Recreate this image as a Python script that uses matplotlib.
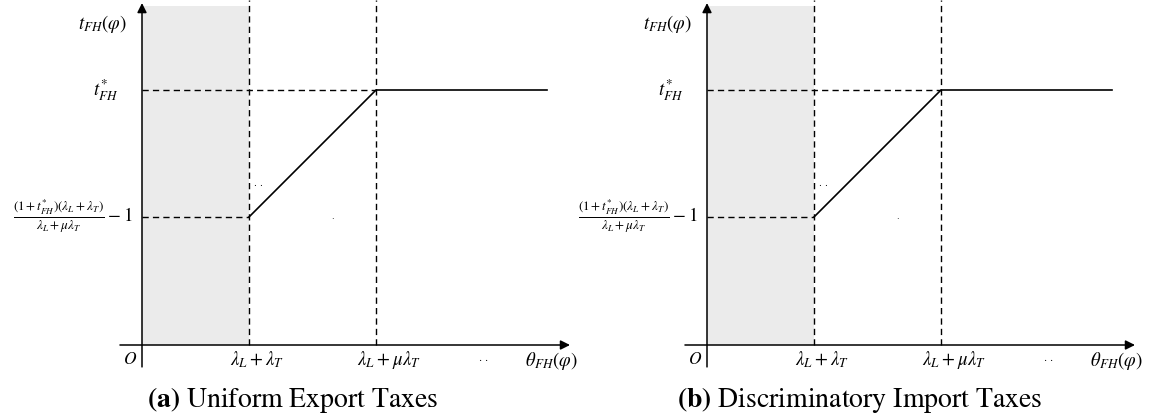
import matplotlib
matplotlib.use("Agg")
import matplotlib.pyplot as plt
from matplotlib.patches import Rectangle

plt.rcParams.update({
    "mathtext.fontset": "stix",
    "font.family": "STIXGeneral",
    "font.size": 11,
})

# ---------------------------------------------------------------------------
# Schematic values (data units: x1 = lambda_L + lambda_T = 1, t* = 1)
# ---------------------------------------------------------------------------
X_KINKS = [1.0, 2.187]         # lambda_L+lambda_T, lambda_L+mu*lambda_T
X_END = 3.785                  # end of the flat segment
T_LEVELS = [0.502, 1.0]        # lower bound, t*_FH
X_TICK_LABELS = [r"$\lambda_L+\lambda_T$", r"$\lambda_L+\mu\lambda_T$"]
Y_TICK_LABELS = [r"$\frac{(1+t^{*}_{FH})(\lambda_L+\lambda_T)}{\lambda_L+\mu\lambda_T}-1$",
                 r"$t^{*}_{FH}$"]
CAPTIONS = [r"$\mathbf{(a)}$ Uniform Export Taxes",
            r"$\mathbf{(b)}$ Discriminatory Import Taxes"]
CAPTION_X = [1.41, 1.43]

PX_X, PX_Y = 107.0, 255.0      # pixels per data unit
ORIGIN = (142, 345)            # pixel position of O in the left panel
PANEL_W = 575
PANEL_H = 372
XLIM = (-ORIGIN[0] / PX_X, (PANEL_W - ORIGIN[0]) / PX_X)
YLIM = ((ORIGIN[1] - PANEL_H) / PX_Y, ORIGIN[1] / PX_Y)
TOP = 1.33
SHADE = "#ebebeb"


def draw_panel(ax, caption, cap_x):
    ax.set_xlim(*XLIM)
    ax.set_ylim(*YLIM)
    ax.axis("off")

    # shaded region left of the first threshold
    ax.add_patch(Rectangle((0, 0), X_KINKS[0], TOP, facecolor=SHADE,
                           edgecolor="none", zorder=0, clip_on=False))

    # axes with arrows
    arrow = dict(arrowstyle="-|>", color="black", lw=1.1,
                 mutation_scale=14, shrinkA=0, shrinkB=0)
    ax.annotate("", xy=(4.0, 0), xytext=(-0.206, 0), arrowprops=arrow,
                annotation_clip=False)
    ax.annotate("", xy=(0, 1.341), xytext=(0, -0.086), arrowprops=arrow,
                annotation_clip=False)

    # dashed guides
    dash = dict(color="black", lw=1.0, ls=(0, (4.5, 3)), zorder=2, clip_on=False)
    for xk in X_KINKS:
        ax.plot([xk, xk], [0, YLIM[1]], **dash)
    ax.plot([0, X_KINKS[1]], [T_LEVELS[1]] * 2, **dash)
    ax.plot([0, X_KINKS[0]], [T_LEVELS[0]] * 2, **dash)

    # schedule
    ax.plot([X_KINKS[0], X_KINKS[1], X_END],
            [T_LEVELS[0], T_LEVELS[1], T_LEVELS[1]],
            color="black", lw=1.2, zorder=3)

    # labels
    fs = 13.5
    ax.text(-0.14, 1.259, r"$t_{FH}(\varphi)$", ha="right", va="center", fontsize=fs)
    ax.text(-0.224, T_LEVELS[1], Y_TICK_LABELS[1], ha="right", va="center", fontsize=fs)
    ax.text(-0.084, T_LEVELS[0], Y_TICK_LABELS[0], ha="right", va="center", fontsize=fs)
    ax.text(-0.112, -0.059, r"$O$", ha="center", va="center", fontsize=12.5)
    ax.text(X_KINKS[0] + 0.075, -0.059, X_TICK_LABELS[0], ha="center", va="center", fontsize=fs)
    ax.text(X_KINKS[1] + 0.12, -0.059, X_TICK_LABELS[1], ha="center", va="center", fontsize=fs)
    ax.text(3.19, -0.05, r"$\cdot\,\cdot$", ha="center", va="center", fontsize=8)
    ax.text(1.09, 0.63, r"$\cdot\ \cdot$", ha="center", va="center", fontsize=7)
    ax.text(1.78, 0.502, r"$\cdot$", ha="center", va="center", fontsize=6)
    ax.text(3.83, -0.063, r"$\theta_{FH}(\varphi)$", ha="center", va="center",
            fontsize=fs, clip_on=False)
    ax.text(cap_x, -0.216, caption, ha="center", va="center", fontsize=20,
            clip_on=False)


fig = plt.figure(figsize=(11.51, 4.19), dpi=100)
W, H = 1151, 419
for i, (cap, cx) in enumerate(zip(CAPTIONS, CAPTION_X)):
    left = 565 * i / W
    ax = fig.add_axes([left, (H - PANEL_H) / H, PANEL_W / W, PANEL_H / H])
    draw_panel(ax, cap, cx)

fig.savefig("out.png", dpi=100)
